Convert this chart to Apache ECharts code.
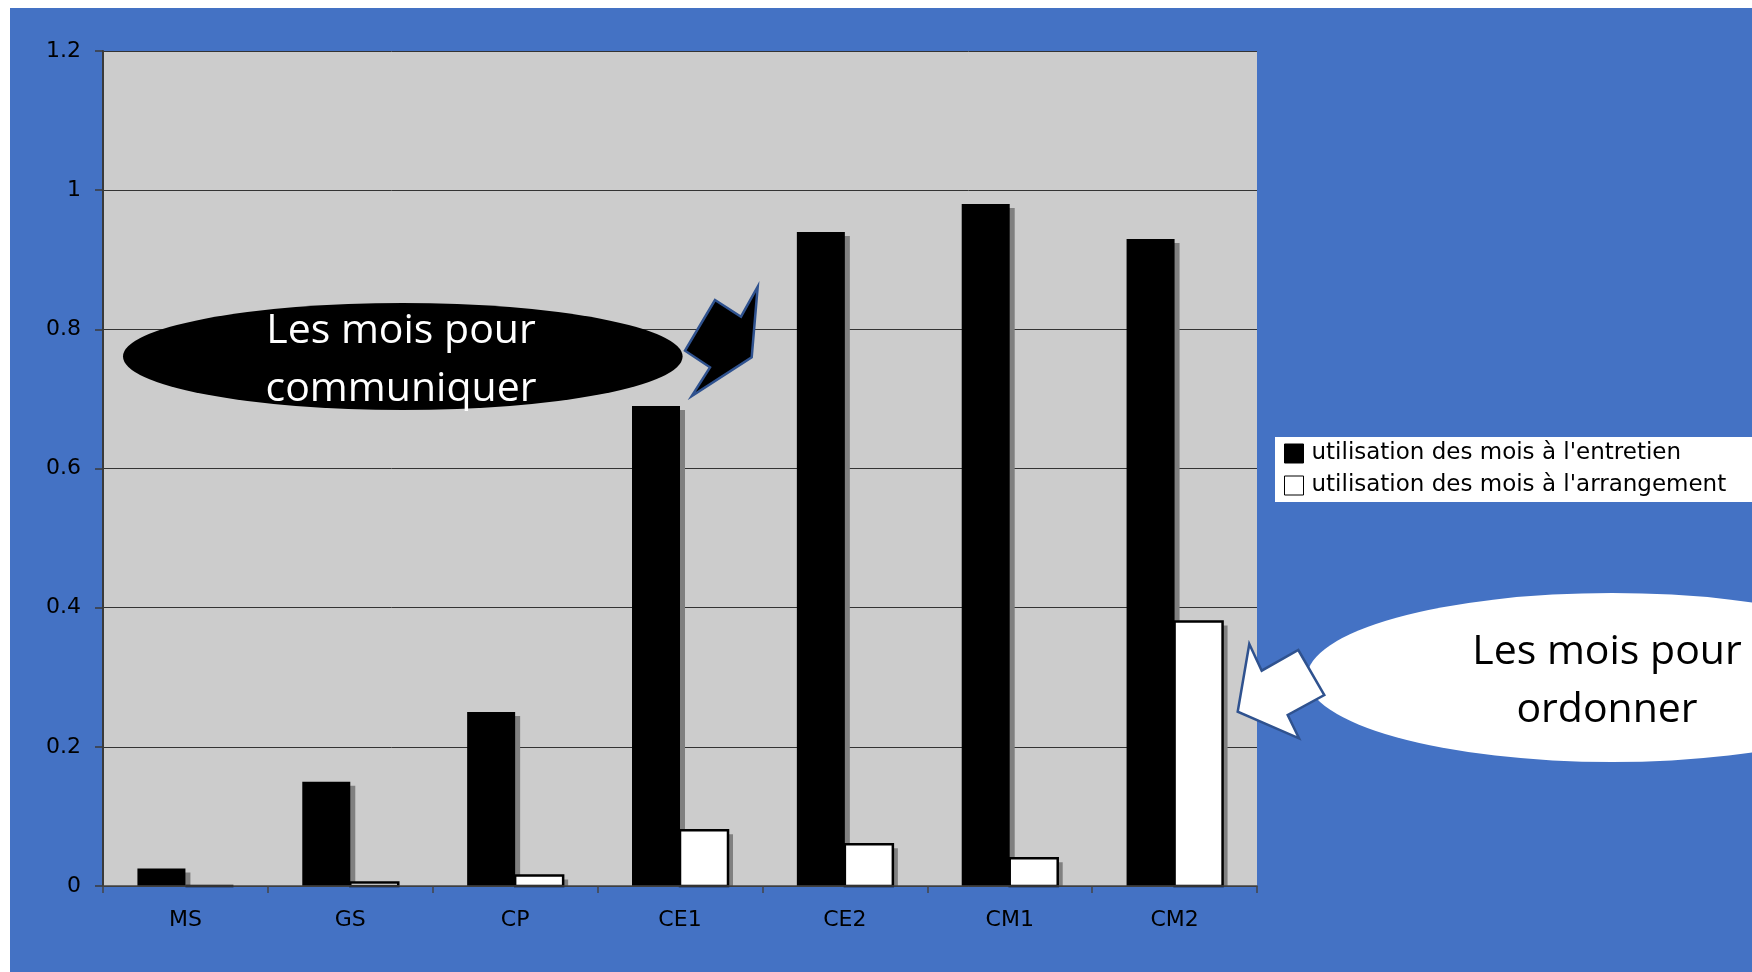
<!DOCTYPE html>
<html>
<head>
<meta charset="utf-8">
<script src="https://cdn.jsdelivr.net/npm/echarts@6/dist/echarts.min.js"></script>
<style>
  html, body { margin: 0; padding: 0; background: #ffffff; }
  #chart { position: absolute; left: 10px; top: 8px; width: 1742px; height: 964px; }
</style>
</head>
<body>
<div id="chart"></div>
<script>
// ---- data ----
const categories = ['MS', 'GS', 'CP', 'CE1', 'CE2', 'CM1', 'CM2'];
const seriesNames = ["utilisation des mois à l'entretien", "utilisation des mois à l'arrangement"];
const entretien = [0.025, 0.15, 0.25, 0.69, 0.94, 0.98, 0.93];
const arrangement = [0, 0.005, 0.015, 0.08, 0.06, 0.04, 0.38];
const yTicks = [0, 0.2, 0.4, 0.6, 0.8, 1, 1.2];
const calloutTop = 'Les mois pour\ncommuniquer';
const calloutRight = 'Les mois pour\nordonner';

// ---- chart ----
const blue = '#4472C4';
const arrowStroke = '#2F528F';
const chart = echarts.init(document.getElementById('chart'), null, { renderer: 'canvas' });
const font = 'DejaVu Sans';
const BAR_W = 48;

// side 0 = left bar of the pair, 1 = right bar; each bar carries an offset grey shadow
function barRenderer(side) {
  return function (params, api) {
    const i = api.value(0), v = api.value(1);
    const p0 = api.coord([i, 0]);
    const p1 = api.coord([i, v]);
    const x = side === 0 ? p0[0] - BAR_W : p0[0];
    const h = p0[1] - p1[1];
    const st = api.style();
    return {
      type: 'group',
      children: [
        { type: 'rect', shape: { x: x + 5, y: p1[1] + 4, width: BAR_W, height: Math.max(h - 4, 0) },
          style: { fill: '#808080' } },
        { type: 'rect', shape: { x: x, y: p1[1], width: BAR_W, height: h },
          style: { fill: st.fill, stroke: side === 1 ? '#000' : null, lineWidth: side === 1 ? 2.5 : 0 } }
      ]
    };
  };
}

const option = {
  backgroundColor: blue,
  animation: false,
  textStyle: { fontFamily: font },
  grid: {
    left: 93, top: 43, right: 495, bottom: 86,
    show: true, backgroundColor: '#CCCCCC', borderWidth: 0
  },
  legend: {
    orient: 'vertical',
    left: 1265, top: 429,
    backgroundColor: '#ffffff',
    padding: [5, 80, 5, 9],
    itemWidth: 19, itemHeight: 19, itemGap: 9,
    icon: 'rect',
    itemStyle: { borderWidth: 1, borderColor: '#000' },
    textStyle: { fontFamily: font, fontSize: 23, color: '#000', padding: [0, 0, 0, 3] },
    data: seriesNames
  },
  xAxis: {
    type: 'category',
    data: categories,
    z: 10,
    axisLine: { lineStyle: { color: '#444', width: 1.5 } },
    axisTick: { show: true, length: 7, lineStyle: { color: '#444', width: 1.5 } },
    axisLabel: { color: '#000', fontFamily: font, fontSize: 22, margin: 23 },
    splitLine: { show: false }
  },
  yAxis: {
    type: 'value',
    min: yTicks[0], max: yTicks[yTicks.length - 1], interval: 0.2,
    axisLine: { show: true, lineStyle: { color: '#3a3a3a', width: 2 } },
    axisTick: { show: true, length: 8, lineStyle: { color: '#3a3a3a', width: 1.5 } },
    axisLabel: {
      color: '#000', fontFamily: font, fontSize: 22, margin: 22,
      formatter: function (v) {
        const t = yTicks.find(function (k) { return Math.abs(k - v) < 1e-9; });
        return t === undefined ? '' : String(t);
      }
    },
    splitLine: { show: true, lineStyle: { color: '#333', width: 1 } }
  },
  series: [
    {
      name: seriesNames[0], type: 'custom',
      data: entretien.map(function (v, i) { return [i, v]; }),
      encode: { x: 0, y: 1 },
      renderItem: barRenderer(0),
      itemStyle: { color: '#000000', borderColor: '#000000' }
    },
    {
      name: seriesNames[1], type: 'custom',
      data: arrangement.map(function (v, i) { return [i, v]; }),
      encode: { x: 0, y: 1 },
      renderItem: barRenderer(1),
      itemStyle: { color: '#ffffff', borderColor: '#000000' }
    }
  ],
  graphic: [
    // black callout
    { type: 'circle', z: 20, x: 392.8, y: 348.5, scaleX: 279.8 / 53.5, scaleY: 1,
      shape: { cx: 0, cy: 0, r: 53.5 }, style: { fill: '#000000' } },
    { type: 'polygon', z: 21,
      shape: { points: [[705, 292], [731, 308.7], [747.7, 278.7], [741.7, 349.3], [681.7, 388], [700, 359.3], [675, 342.7]] },
      style: { fill: '#000000', stroke: arrowStroke, lineWidth: 2.5, lineJoin: 'miter' } },
    { type: 'text', z: 22, x: 391, y: 352,
      style: { text: calloutTop, fill: '#ffffff', font: '41px "Open Sans"', textAlign: 'center', textVerticalAlign: 'middle', lineHeight: 58 } },
    // white callout
    { type: 'circle', z: 20, x: 1602, y: 669.5, scaleX: 305 / 84.5, scaleY: 1,
      shape: { cx: 0, cy: 0, r: 84.5 }, style: { fill: '#ffffff' } },
    { type: 'polygon', z: 21,
      shape: { points: [[1239.3, 636], [1251.7, 662.7], [1288.3, 642], [1314.3, 687], [1277.7, 707], [1289, 730.3], [1227.7, 703.7]] },
      style: { fill: '#ffffff', stroke: arrowStroke, lineWidth: 2.5, lineJoin: 'miter' } },
    { type: 'text', z: 22, x: 1597, y: 673,
      style: { text: calloutRight, fill: '#000000', font: '41px "Open Sans"', textAlign: 'center', textVerticalAlign: 'middle', lineHeight: 58 } }
  ]
};
chart.setOption(option);
</script>
</body>
</html>
